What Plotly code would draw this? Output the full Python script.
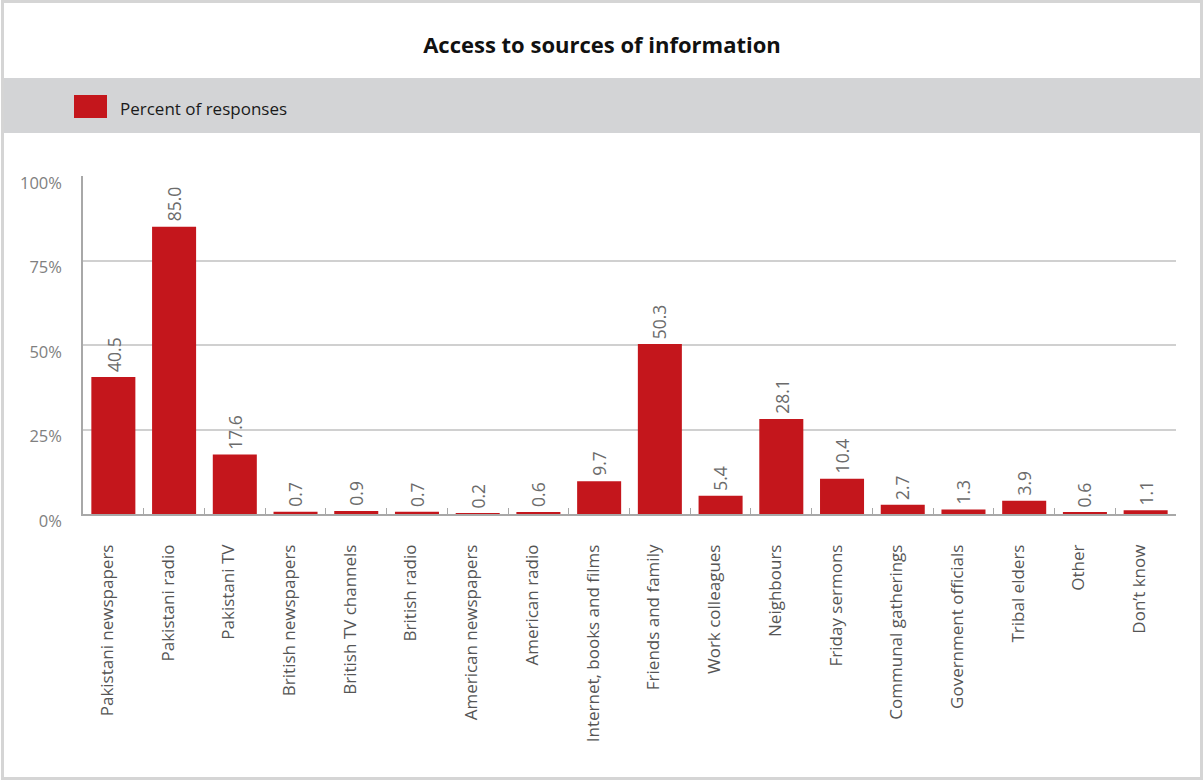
import plotly.graph_objects as go

# Survey categories and share of respondents (%)
categories = [
    "Pakistani newspapers", "Pakistani radio", "Pakistani TV",
    "British newspapers", "British TV channels", "British radio",
    "American newspapers", "American radio", "Internet, books and films",
    "Friends and family", "Work colleagues", "Neighbours",
    "Friday sermons", "Communal gatherings", "Government officials",
    "Tribal elders", "Other", "Don\u2019t know",
]
percent = [40.5, 85.0, 17.6, 0.7, 0.9, 0.7, 0.2, 0.6, 9.7,
           50.3, 5.4, 28.1, 10.4, 2.7, 1.3, 3.9, 0.6, 1.1]
y_ticks = [0, 25, 50, 75, 100]
y_tick_labels = ["0%", "25%", "50%", "75%", "100%"]

RED = "#c4161c"
FONT = "Open Sans"
W, H = 1204, 781
L, R, T, B = 83, 28, 176, 267
pw, ph = W - L - R, H - T - B


def px(x):
    return (x - L) / pw


def py(y):
    return (H - B - y) / ph


fig = go.Figure()
fig.add_trace(go.Bar(
    x=categories, y=percent, name="Percent of responses",
    marker=dict(color=RED, line=dict(width=0)),
    showlegend=False, hoverinfo="x+y",
))

shapes = [
    # grey legend band
    dict(type="rect", xref="paper", yref="paper", layer="below",
         x0=px(4), x1=px(1200), y0=py(133), y1=py(78),
         fillcolor="#d3d4d6", line=dict(width=0)),
    # legend swatch
    dict(type="rect", xref="paper", yref="paper",
         x0=px(74), x1=px(107), y0=py(118), y1=py(95),
         fillcolor=RED, line=dict(width=0)),
    # outer frame
    dict(type="rect", xref="paper", yref="paper",
         x0=px(2.5), x1=px(1201.5), y0=py(778.5), y1=py(1.5),
         fillcolor="rgba(0,0,0,0)", line=dict(color="#d5d5d5", width=3)),
]

annotations = [
    dict(text="Percent of responses", xref="paper", yref="paper",
         x=px(118), y=py(108), xanchor="left", yanchor="middle",
         showarrow=False, font=dict(family=FONT, size=17, color="#1a1a1a")),
]

# value labels above each bar, rotated
for cat, val in zip(categories, percent):
    annotations.append(dict(
        x=cat, y=val, xref="x", yref="y", text=f"{val:.1f}",
        textangle=-90, showarrow=False, xanchor="center", yanchor="bottom",
        yshift=3, font=dict(family=FONT, size=17.5, color="#6b6b6b"),
    ))

fig.update_layout(
    width=W, height=H,
    margin=dict(l=L, r=R, t=T, b=B),
    paper_bgcolor="white", plot_bgcolor="white",
    bargap=0.275,
    title=dict(text="<b>Access to sources of information</b>",
               x=0.5, xanchor="center", xref="container",
               y=1 - 45 / H, yanchor="middle", yref="container",
               font=dict(family=FONT, size=22, color="#111111")),
    shapes=shapes, annotations=annotations,
    xaxis=dict(
        type="category", tickangle=-90, tickson="boundaries",
        ticks="inside", ticklen=6, tickcolor="#a8a8a8",
        showline=True, linecolor="#a8a8a8", linewidth=1.5,
        showgrid=False, ticklabelstandoff=22, ticklabelshift=-6,
        tickfont=dict(family=FONT, size=17, color="#555555"),
    ),
    yaxis=dict(
        range=[0, 100], tickvals=y_ticks, ticktext=y_tick_labels,
        showgrid=True, gridcolor="#d0d0d0", gridwidth=1.5,
        showline=True, linecolor="#a8a8a8", linewidth=1.5,
        zeroline=False, ticks="", ticklabelstandoff=16, ticklabelshift=7,
        tickfont=dict(family=FONT, size=16.5, color="#808080"),
    ),
)

fig.write_html("out.html")
